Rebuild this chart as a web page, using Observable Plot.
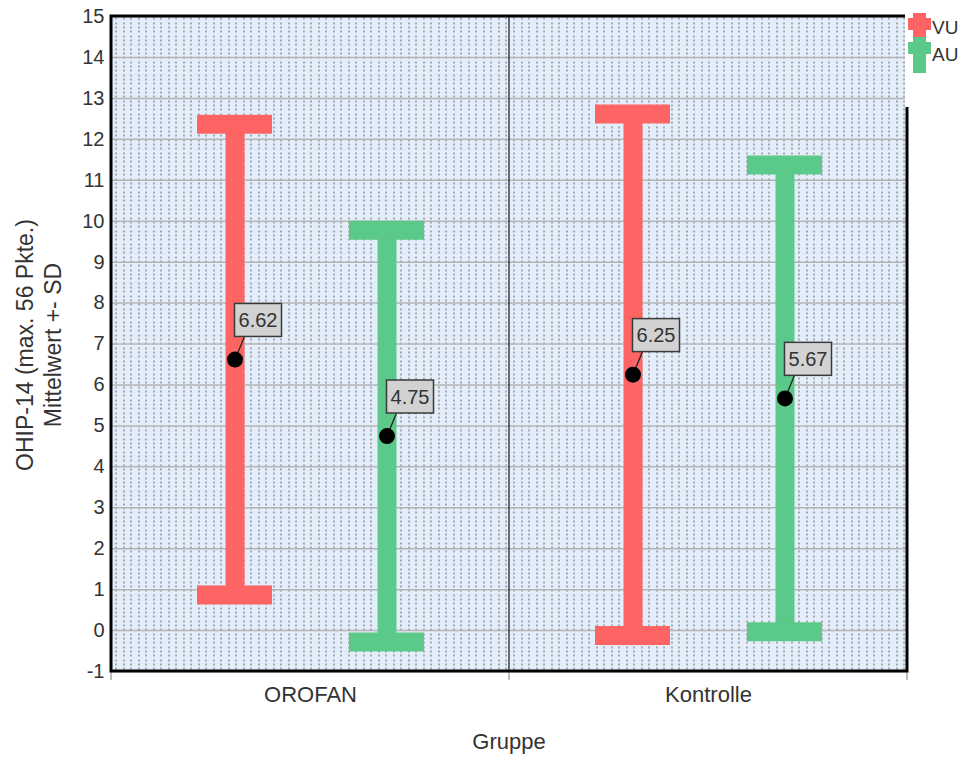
<!DOCTYPE html>
<html><head><meta charset="utf-8">
<script src="https://cdn.jsdelivr.net/npm/d3@7"></script>
<script src="https://cdn.jsdelivr.net/npm/@observablehq/plot@0.6"></script>
<style>
html,body{margin:0;padding:0;background:#fff;}
#wrap{position:relative;width:963px;height:758px;font-family:"Liberation Sans",Arial,sans-serif;color:#333;overflow:hidden;}
#wrap > svg{position:absolute;left:0;top:0;}
#legend{position:absolute;left:905px;top:0;width:58px;height:107px;background:#fff;}
#legend .txt{position:absolute;left:27px;font-family:"Liberation Sans",Arial,sans-serif;font-size:19px;line-height:20px;color:#333;}
#ytitle{position:absolute;left:39px;top:345px;transform:translate(-50%,-50%) rotate(-90deg);white-space:nowrap;text-align:center;font-size:23px;line-height:28px;}
#xtitle{position:absolute;left:111px;width:796px;top:731px;text-align:center;font-size:22px;line-height:22px;}
</style></head>
<body>
<svg width="0" height="0" style="position:absolute"><defs>
<pattern id="dots" patternUnits="userSpaceOnUse" width="15" height="13">
<rect width="15" height="13" fill="#e4eefa"/>
<rect x="3" y="0" width="1" height="2" fill="#666"/>
<rect x="3" y="4" width="1" height="2" fill="#666"/>
<rect x="3" y="9" width="1" height="2" fill="#666"/>
<rect x="10" y="0" width="1" height="2" fill="#666"/>
<rect x="10" y="4" width="1" height="2" fill="#666"/>
<rect x="10" y="9" width="1" height="2" fill="#666"/>
</pattern></defs></svg>
<div id="wrap">
  <div id="ytitle">OHIP-14 (max. 56 Pkte.)<br>Mittelwert +- SD</div>
  <div id="xtitle">Gruppe</div>
</div>
<script>
// ---- data ----
const groups = ["OROFAN", "Kontrolle"];
const series = ["VU", "AU"];
const rowGroup = ["OROFAN", "OROFAN", "Kontrolle", "Kontrolle"];
const rowSeries = ["VU", "AU", "VU", "AU"];
const means = [6.62, 4.75, 6.25, 5.67];
const sds = [5.75, 5.03, 6.37, 5.70];
const yTicks = [-1, 0, 1, 2, 3, 4, 5, 6, 7, 8, 9, 10, 11, 12, 13, 14, 15];
const seriesColors = ["#ff6464", "#5ac98a"];

const data = means.map((m, i) => ({
  group: rowGroup[i], series: rowSeries[i], mean: m, lo: m - sds[i], hi: m + sds[i]
}));

const LDX = 23, LDY = -39;

const plot = Plot.plot({
  width: 963, height: 758,
  marginLeft: 111, marginRight: 56, marginTop: 16, marginBottom: 87,
  style: {fontFamily: "'Liberation Sans',Arial,sans-serif", color: "#333", background: "transparent", overflow: "visible"},
  fx: {domain: groups, padding: 0},
  x: {domain: series, paddingInner: 0.507, paddingOuter: 0.5627, axis: null},
  y: {domain: [-1, 15]},
  color: {domain: series, range: seriesColors},
  marks: [
    Plot.frame({fill: "url(#dots)"}),
    Plot.ruleY(yTicks, {stroke: "#b4b4b4", strokeWidth: 1.5}),
    Plot.ruleX(data, {fx: "group", x: "series", y1: "lo", y2: "hi", stroke: "series", strokeWidth: 19}),
    Plot.tickY(data, {fx: "group", x: "series", y: "hi", stroke: "series", strokeWidth: 19}),
    Plot.tickY(data, {fx: "group", x: "series", y: "lo", stroke: "series", strokeWidth: 19}),
    Plot.dot(data, {fx: "group", x: "series", y: "mean", r: 8, fill: "black"}),
    Plot.text(data, {fx: "group", x: "series", y: "mean", text: d => d.mean.toFixed(2), dx: LDX, dy: LDY, fontSize: 20, fill: "#333"}),
    Plot.axisY({ticks: yTicks, tickFormat: d => String(d), tickSize: 0, tickPadding: 7, fontSize: 20, label: null, fill: "#333"}),
    Plot.axisFx({anchor: "bottom", tickSize: 0, tickPadding: 15, fontSize: 22, label: null, fill: "#333"})
  ]
});

const wrap = document.getElementById("wrap");
wrap.insertBefore(plot, wrap.firstChild);

// ---- decorations from the library's scales ----
const svg = d3.select(plot);
const ys = plot.scale("y");
const fxs = plot.scale("fx");
const yTop = ys.apply(yTicks[yTicks.length - 1]);
const yBot = ys.apply(yTicks[0]);
const xL = fxs.apply(groups[0]);
const xR = fxs.apply(groups[groups.length - 1]) + fxs.bandwidth;
const deco = svg.append("g");
groups.slice(1).forEach(g => {
  const xd = fxs.apply(g);
  deco.append("line").attr("x1", xd).attr("x2", xd).attr("y1", yTop).attr("y2", yBot).attr("stroke", "#111").attr("stroke-width", 1.2);
});
[xL, ...groups.slice(1).map(g => fxs.apply(g)), xR].forEach(x => {
  deco.append("line").attr("x1", x).attr("x2", x).attr("y1", yBot).attr("y2", yBot + 9).attr("stroke", "#aaa").attr("stroke-width", 1.5);
});
deco.append("rect").attr("x", xL).attr("y", yTop).attr("width", xR - xL).attr("height", yBot - yTop)
  .attr("fill", "none").attr("stroke", "#000").attr("stroke-width", 3);

// labels: boxes and leaders
const sr = plot.getBoundingClientRect();
const texts = plot.querySelectorAll('g[aria-label="text"] text');
const dots = plot.querySelectorAll('g[aria-label="dot"] circle');
const leadG = svg.append("g");
const dotG = plot.querySelector('g[aria-label="dot"]');
plot.appendChild(dotG);
const boxG = svg.append("g");
texts.forEach((t, i) => {
  const tb = t.getBoundingClientRect();
  const cb = dots[i].getBoundingClientRect();
  const tcx = tb.x + tb.width / 2 - sr.x, tcy = tb.y + tb.height / 2 - sr.y;
  const cx = cb.x + cb.width / 2 - sr.x, cy = cb.y + cb.height / 2 - sr.y;
  const bw = 47, bh = 33;
  const bx = tcx - bw / 2, by = tcy - bh / 2;
  leadG.append("line").attr("x1", cx).attr("y1", cy).attr("x2", bx + 10).attr("y2", by + bh)
    .attr("stroke", "#222").attr("stroke-width", 1.3);
  boxG.append("rect").attr("x", bx).attr("y", by).attr("width", bw).attr("height", bh)
    .attr("fill", "#d2d2d2").attr("stroke", "#3a3a3a").attr("stroke-width", 1.5);
});
plot.appendChild(plot.querySelector('g[aria-label="text"]'));

// ---- legend (HTML) ----
const legend = document.createElement("div");
legend.id = "legend";
const icon = (c, top) => `<svg style="position:absolute;left:3px;top:${top}px" width="24" height="36">
<rect x="5" y="0" width="13" height="36" fill="${c}"/><rect x="0" y="5" width="23" height="12" fill="${c}"/></svg>`;
legend.innerHTML = series.map((s, i) =>
  icon(seriesColors[i], 13 + i * 24) +
  `<div class="txt" style="top:${18 + i * 27}px">${s}</div>`).join("");
wrap.appendChild(legend);
</script>
</body></html>
